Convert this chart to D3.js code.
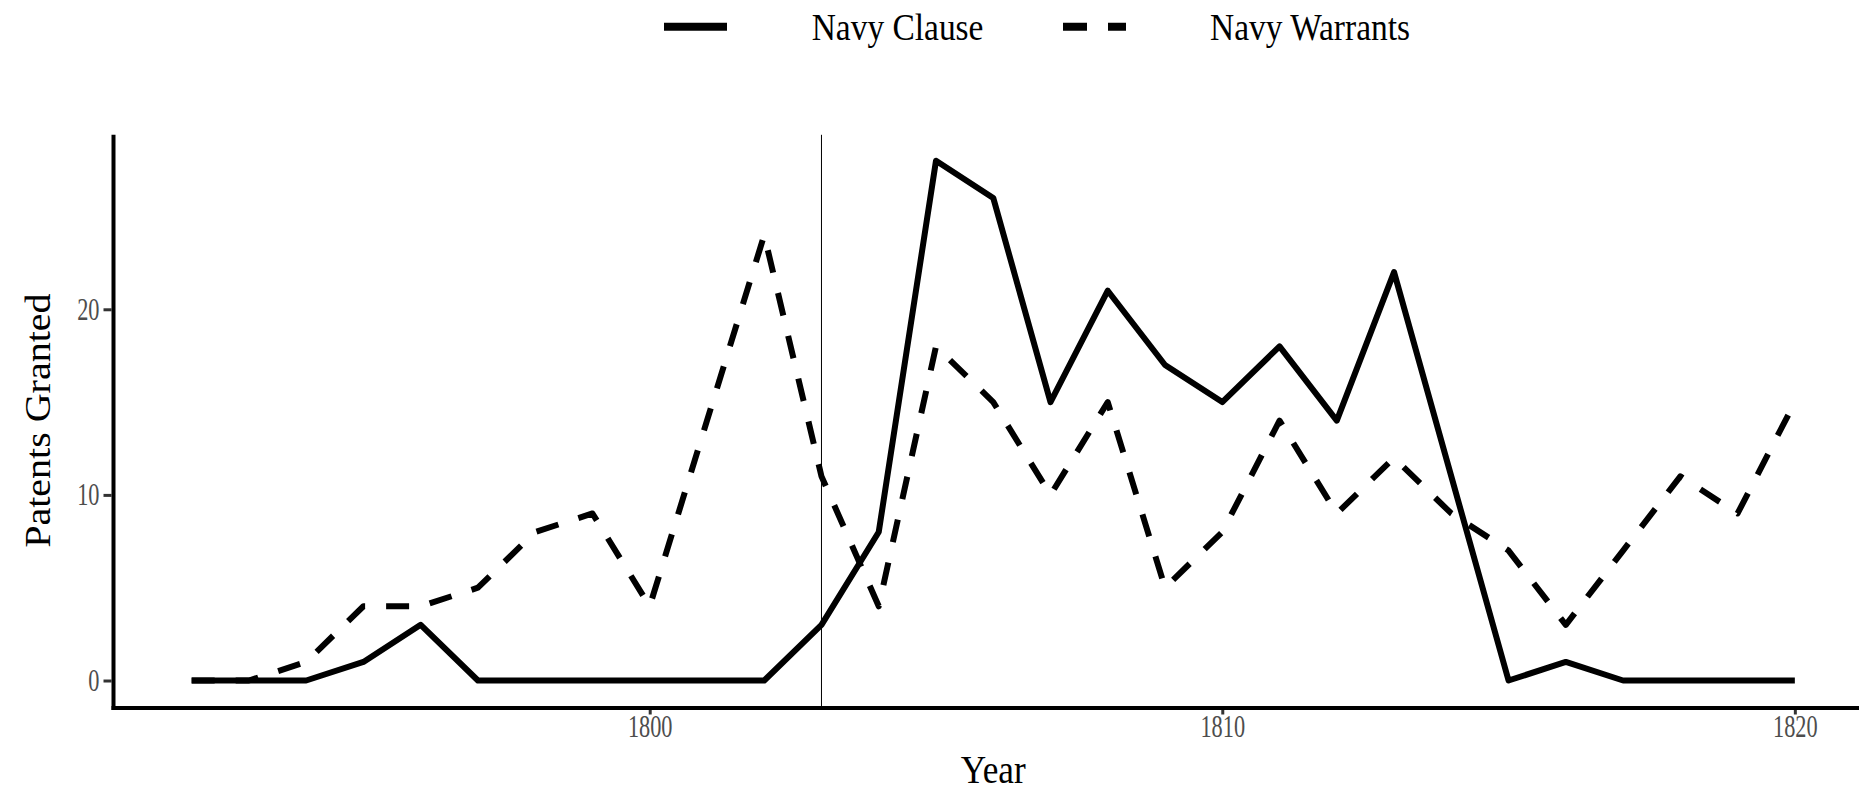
<!DOCTYPE html>
<html>
  <head>
    <title>Navy patents granted</title>
    <meta http-equiv="Content-Type" content="text/html; charset=utf-8">
    <style type="text/css">
      body { margin: 0; background: #fff; }
      svg text { font-family: "Liberation Serif", "Times New Roman", serif; }
      path.line { fill: none; stroke: #000; stroke-linejoin: round; }
      .axis .domain { display: none; }
      .axis line { stroke: #333; stroke-width: 3; }
      .axis text { fill: #4d4d4d; font-size: 31px; }
    </style>
  </head>
  <body>
    <div id="main"></div>

    <script src="https://d3js.org/d3.v7.min.js"></script>
    <script>
    // chart data
    var years = [1792, 1793, 1794, 1795, 1796, 1797, 1798, 1799, 1800, 1801,
                 1802, 1803, 1804, 1805, 1806, 1807, 1808, 1809, 1810, 1811,
                 1812, 1813, 1814, 1815, 1816, 1817, 1818, 1819, 1820];
    var navyClause = [0, 0, 0, 1, 3, 0, 0, 0, 0, 0,
                      0, 3, 8, 28, 26, 15, 21, 17, 15, 18,
                      14, 22, 11, 0, 1, 0, 0, 0, 0];
    var navyWarrants = [0, 0, 1, 4, 4, 5, 8, 9, 4, 14,
                        24, 11, 4, 18, 15, 10, 15, 5, 8, 14,
                        9, 12, 9, 7, 3, 7, 11, 9, 15];
    var seriesNames = ["Navy Clause", "Navy Warrants"];
    var xTicks = [1800, 1810, 1820];
    var yTicks = [0, 10, 20];
    var markerYear = 1803;

    var width = 1859, height = 793;
    var squish = "scale(0.88,1)";      // the reference text is a bit narrow
    var tickSquish = "scale(0.72,1)";

    var svg = d3.select("#main")
      .append("svg")
        .attr("width", width)
        .attr("height", height);

    // scales with ggplot style 5% padding
    var xExt = d3.extent(years), xPad = (xExt[1] - xExt[0]) * 0.05;
    var yMax = d3.max(navyClause.concat(navyWarrants)), yPad = yMax * 0.05;
    var x = d3.scaleLinear().domain([xExt[0] - xPad, xExt[1] + xPad]).range([111.5, 1875]);
    var y = d3.scaleLinear().domain([-yPad, yMax + yPad]).range([706.5, 134.8]);

    var series = [
      {name: seriesNames[0], values: navyClause, dash: null},
      {name: seriesNames[1], values: navyWarrants, dash: "23,21"}
    ];

    // marker line
    svg.append("line")
      .attr("x1", x(markerYear)).attr("x2", x(markerYear))
      .attr("y1", y.range()[1]).attr("y2", y.range()[0])
      .attr("stroke", "#000")
      .attr("stroke-width", 1);

    // the lines
    var valueline = d3.line()
      .x(function(d) { return x(d[0]); })
      .y(function(d) { return y(d[1]); });

    series.forEach(function(s) {
      svg.append("path")
        .attr("class", "line")
        .attr("stroke-width", 6)
        .attr("stroke-dasharray", s.dash)
        .attr("d", valueline(d3.zip(years, s.values)));
    });

    // x axis
    var xAxis = svg.append("g")
      .attr("class", "axis")
      .attr("transform", "translate(0," + y.range()[0] + ")")
      .call(d3.axisBottom(x).tickValues(xTicks).tickFormat(d3.format("d"))
        .tickSize(8).tickSizeOuter(0).tickPadding(0));
    xAxis.selectAll(".tick text").attr("transform", tickSquish);

    // y axis
    var yAxis = svg.append("g")
      .attr("class", "axis")
      .attr("transform", "translate(" + x.range()[0] + ",0)")
      .call(d3.axisLeft(y).tickValues(yTicks).tickSize(8).tickSizeOuter(0));
    yAxis.selectAll(".tick text")
      .attr("x", -12 / 0.72)
      .attr("transform", tickSquish);

    // axis lines
    svg.append("line")
      .attr("x1", x.range()[0]).attr("x2", x.range()[1])
      .attr("y1", y.range()[0] + 1.5).attr("y2", y.range()[0] + 1.5)
      .attr("stroke", "#000").attr("stroke-width", 4);
    svg.append("line")
      .attr("x1", x.range()[0] + 2).attr("x2", x.range()[0] + 2)
      .attr("y1", y.range()[1]).attr("y2", y.range()[0] + 3.5)
      .attr("stroke", "#000").attr("stroke-width", 4);

    // axis titles
    svg.append("text")
      .attr("transform", "translate(" + ((x.range()[0] + x.range()[1]) / 2) + ",783) " + squish)
      .attr("text-anchor", "middle")
      .style("font-size", "40px")
      .text("Year");

    svg.append("text")
      .attr("transform", "translate(50," + ((y.range()[0] + y.range()[1]) / 2) + ") rotate(-90) scale(1,0.88)")
      .attr("text-anchor", "middle")
      .style("font-size", "40px")
      .text("Patents Granted");

    // legend
    var legendX = [664, 1063], legendTextX = [811.7, 1210];
    series.forEach(function(s, i) {
      svg.append("line")
        .attr("x1", legendX[i]).attr("x2", legendX[i] + 63)
        .attr("y1", 26.7).attr("y2", 26.7)
        .attr("stroke", "#000")
        .attr("stroke-width", 8)
        .attr("stroke-dasharray", s.dash ? "24,21" : null);
      svg.append("text")
        .attr("transform", "translate(" + legendTextX[i] + ",40) " + squish)
        .style("font-size", "38px")
        .text(s.name);
    });
    </script>
  </body>
</html>
